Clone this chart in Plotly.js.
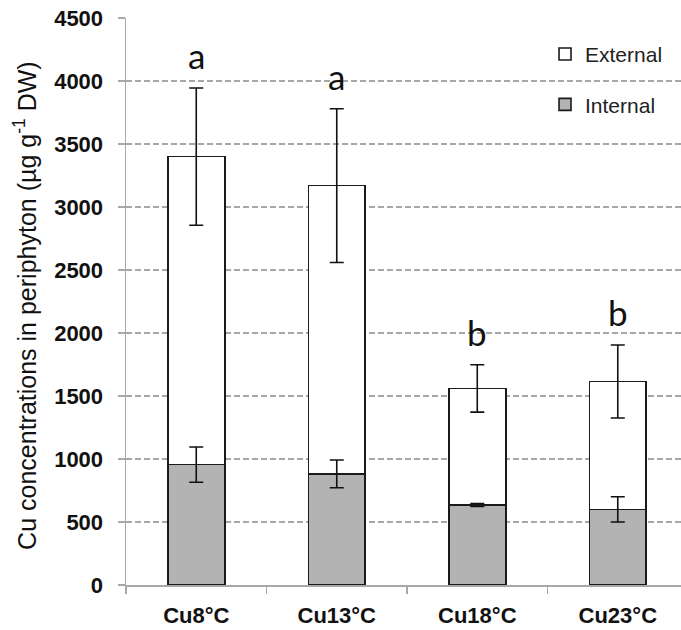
<!DOCTYPE html>
<html>
<head>
<meta charset="utf-8">
<script src="https://cdn.plot.ly/plotly-3.0.1.min.js"></script>
<style>html,body{margin:0;padding:0;background:#fff;}</style>
</head>
<body>
<div id="chart" style="width:681px;height:630px;"></div>
<script>
const categories = ["Cu8°C", "Cu13°C", "Cu18°C", "Cu23°C"];
const internal = [955, 882, 635, 600];
const internalErr = [140, 110, 12, 100];
const external = [2445, 2288, 925, 1015];
const totalErr = [545, 610, 188, 290];
const letters = ["a", "a", "b", "b"];
const yTicks = [0, 500, 1000, 1500, 2000, 2500, 3000, 3500, 4000, 4500];
const yTitle = "Cu concentrations in periphyton (µg g<sup>-1</sup> DW)";

const totals = internal.map((v, i) => v + external[i]);

const barLine = {color: "#1a1a1a", width: 1.6};
const errStyle = {type: "data", visible: true, color: "#111", thickness: 1.6, width: 7};

const traces = [
  {
    type: "bar", name: "Internal", x: categories, y: internal,
    marker: {color: "#b3b3b3", line: barLine},
    legendgroup: "int", legendrank: 2, hoverinfo: "skip"
  },
  {
    type: "bar", name: "External", x: categories, y: external,
    marker: {color: "#ffffff", line: barLine},
    legendgroup: "ext", legendrank: 1, hoverinfo: "skip"
  },
  {
    type: "scatter", mode: "markers", x: categories, y: internal,
    marker: {opacity: 0, size: 1},
    error_y: Object.assign({array: internalErr}, errStyle),
    showlegend: false, hoverinfo: "skip"
  },
  {
    type: "scatter", mode: "markers", x: categories, y: totals,
    marker: {opacity: 0, size: 1},
    error_y: Object.assign({array: totalErr}, errStyle),
    showlegend: false, hoverinfo: "skip"
  }
];

const annotations = categories.map((c, i) => ({
  x: c, y: totals[i] + totalErr[i], xref: "x", yref: "y",
  text: letters[i], showarrow: false, yanchor: "bottom", yshift: 10,
  font: {family: "Lato, 'Open Sans', sans-serif", size: 35, color: "#111"}
}));
annotations.push({
  xref: "paper", yref: "paper", x: -0.182, y: 0.494,
  xanchor: "center", yanchor: "middle", textangle: -90,
  text: yTitle, showarrow: false,
  font: {family: "Liberation Sans, Arial, sans-serif", size: 25, color: "#111"}
});

const layout = {
  width: 681, height: 630,
  margin: {l: 126, r: 0, t: 18, b: 45, pad: 0},
  paper_bgcolor: "#ffffff", plot_bgcolor: "#ffffff",
  barmode: "stack", bargap: 0.595,
  showlegend: true,
  legend: {
    x: 0.755, y: 0.972, xanchor: "left", yanchor: "top",
    traceorder: "grouped", tracegroupgap: 20,
    bgcolor: "rgba(0,0,0,0)",
    font: {family: "Liberation Sans, Arial, sans-serif", size: 21, color: "#222"}
  },
  xaxis: {
    type: "category", range: [-0.5, 3.45],
    showline: true, linecolor: "#a8a8a8", linewidth: 1.5,
    ticks: "outside", tickson: "boundaries", ticklen: 7, tickcolor: "#a8a8a8", tickwidth: 1.5,
    showgrid: false, ticklabelstandoff: 10,
    tickfont: {family: "Liberation Sans, Arial, sans-serif", size: 22, color: "#111", weight: "bold"}
  },
  yaxis: {
    range: [0, 4500], tickvals: yTicks, ticktext: yTicks.map(String),
    showline: true, linecolor: "#a8a8a8", linewidth: 1.5,
    ticks: "outside", ticklen: 7, tickcolor: "#a8a8a8", tickwidth: 1.5,
    showgrid: true, gridcolor: "#a6a6a6", gridwidth: 1.5, griddash: "6px,3px",
    zeroline: false, ticklabelstandoff: 10,
    tickfont: {family: "Liberation Sans, Arial, sans-serif", size: 22, color: "#111", weight: "bold"}
  },
  annotations: annotations
};

Plotly.newPlot("chart", traces, layout, {displayModeBar: false, staticPlot: true});
</script>
</body>
</html>
